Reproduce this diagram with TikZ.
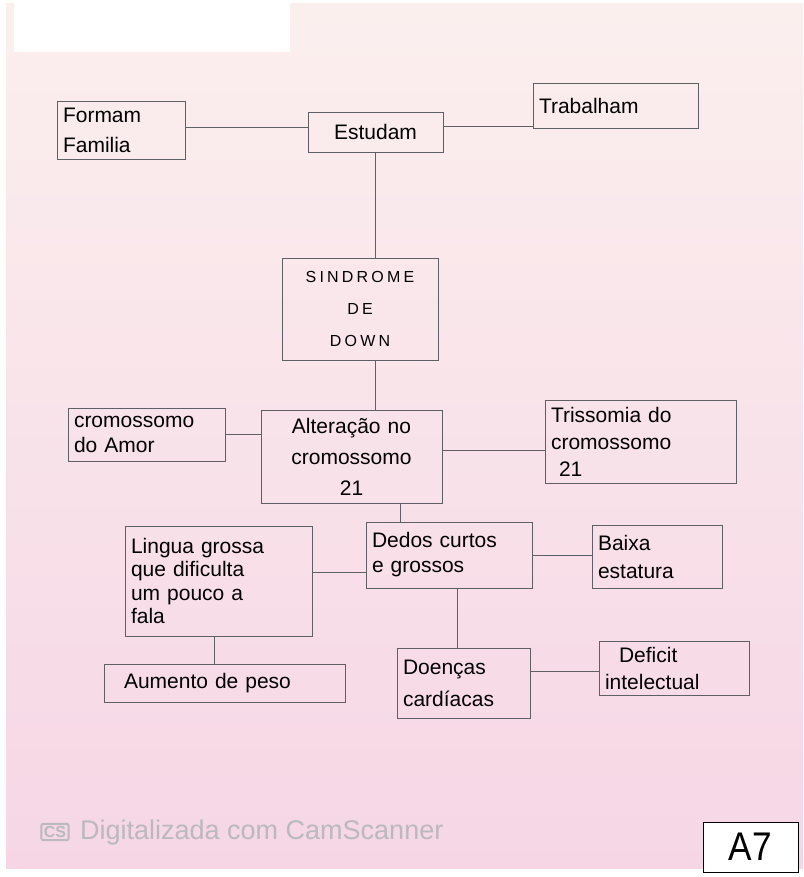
\documentclass[tikz,border=0pt]{standalone}
\usepackage{fontspec}
\setmainfont{Liberation Sans}
\newfontfamily\espacada[LetterSpace=20]{Liberation Sans}
\usetikzlibrary{calc}

\definecolor{lapis}{RGB}{95,95,102}
\definecolor{papelcima}{RGB}{251,239,238}
\definecolor{papelbaixo}{RGB}{246,214,229}
\definecolor{marca}{RGB}{185,185,190}
\newcommand\mao{\fontsize{21}{27}\selectfont}

\tikzset{
  caixa/.style={draw=lapis, line width=0.9pt, inner sep=6pt, align=left, font=\mao},
  ligacao/.style={draw=lapis, line width=0.9pt}
}

\begin{document}
\begin{tikzpicture}[x=1pt,y=-1pt]
% papel
\useasboundingbox (0,0) rectangle (803,877);
\fill[white] (0,0) rectangle (803,877);
\shade[top color=papelcima, bottom color=papelbaixo] (6,4) rectangle (803,868);
\fill[white] (14,0) rectangle (290,52);

% caixas
\node[caixa, text width=116pt, minimum height=58pt, font=\fontsize{21}{30}\selectfont] (formam) at (121,130) {Formam\\Familia};
\node[caixa, text width=123pt, minimum height=40pt, align=center] (estudam) at (375.5,132) {Estudam};
\node[caixa, text width=153pt, minimum height=45pt] (trabalham) at (615.5,106) {Trabalham};
\node[caixa, text width=144pt, minimum height=102pt, align=center,
      font=\espacada\fontsize{16}{32}\selectfont] (sindrome) at (360,309) {SINDROME\\DE\\DOWN};
\node[caixa, text width=145pt, minimum height=53pt, font=\fontsize{21}{25}\selectfont] (cromossomo) at (146.5,434.5) {cromossomo\\do Amor};
\node[caixa, text width=169pt, minimum height=93pt, align=center,
      font=\fontsize{21}{31}\selectfont] (alteracao) at (351.5,456.5) {Alteração no\\cromossomo\\21};
\node[caixa, text width=179pt, minimum height=83pt] (trissomia) at (640.5,441.5) {Trissomia do\\cromossomo\\\hspace*{8pt}21};
\node[caixa, text width=175pt, minimum height=110pt, font=\fontsize{21}{23.5}\selectfont] (lingua) at (218.5,581) {Lingua grossa\\que dificulta\\um pouco a\\fala};
\node[caixa, text width=154pt, minimum height=66pt, font=\fontsize{21}{25}\selectfont] (dedos) at (449,555) {Dedos curtos\\e grossos};
\node[caixa, text width=118pt, minimum height=63pt, font=\fontsize{21}{28}\selectfont] (baixa) at (657,556.5) {Baixa\\estatura};
\node[caixa, text width=229pt, minimum height=38pt] (aumento) at (224.5,683) {\hspace*{14pt}Aumento de peso};
\node[caixa, text width=121pt, minimum height=70pt, font=\fontsize{21}{32}\selectfont] (doencas) at (463.5,683) {Doenças\\cardíacas};
\node[caixa, text width=138pt, minimum height=53pt] (deficit) at (674,668.5) {\hspace*{14pt}Deficit\\intelectual};

% ligacoes
\draw[ligacao] ([yshift=3pt]formam.east) -- ([yshift=3pt]formam.east -| estudam.west);
\draw[ligacao] ([yshift=6pt]estudam.east) -- ([yshift=6pt]estudam.east -| trabalham.west);
\draw[ligacao] (estudam.south) -- (estudam.south |- sindrome.north);
\draw[ligacao] ([xshift=15pt]sindrome.south) -- ([xshift=15pt]sindrome.south |- alteracao.north);
\draw[ligacao] (cromossomo.east) -- (cromossomo.east -| alteracao.west);
\draw[ligacao] ([yshift=6pt]alteracao.east) -- ([yshift=6pt]alteracao.east -| trissomia.west);
\draw[ligacao] ([xshift=49pt]alteracao.south) -- ([xshift=49pt]alteracao.south |- dedos.north);
\draw[ligacao] ([yshift=9pt]lingua.east) -- ([yshift=9pt]lingua.east -| dedos.west);
\draw[ligacao] (dedos.east) -- (dedos.east -| baixa.west);
\draw[ligacao] ([xshift=8pt]dedos.south) -- ([xshift=8pt]dedos.south |- doencas.north);
\draw[ligacao] ([xshift=-4pt]lingua.south) -- ([xshift=-4pt]lingua.south |- aumento.north);
\draw[ligacao] ([yshift=12pt]doencas.east) -- ([yshift=12pt]doencas.east -| deficit.west);

% marca do scanner
\node[draw=marca, line width=2pt, rounded corners=2pt, inner sep=2.5pt, text=marca,
      font=\bfseries\fontsize{16}{16}\selectfont] (logo) at (55,832) {CS};
\node[anchor=west, text=marca, font=\fontsize{27}{27}\selectfont, inner sep=0pt] (scanner) at (80,833) {Digitalizada com CamScanner};

% rotulo
\node[draw=black, line width=1pt, fill=white, minimum width=95pt, minimum height=50pt,
      font=\fontsize{40}{40}\selectfont] (rotulo) at (750.5,847) {\scalebox{0.88}[1]{A7}};
\end{tikzpicture}
\end{document}
